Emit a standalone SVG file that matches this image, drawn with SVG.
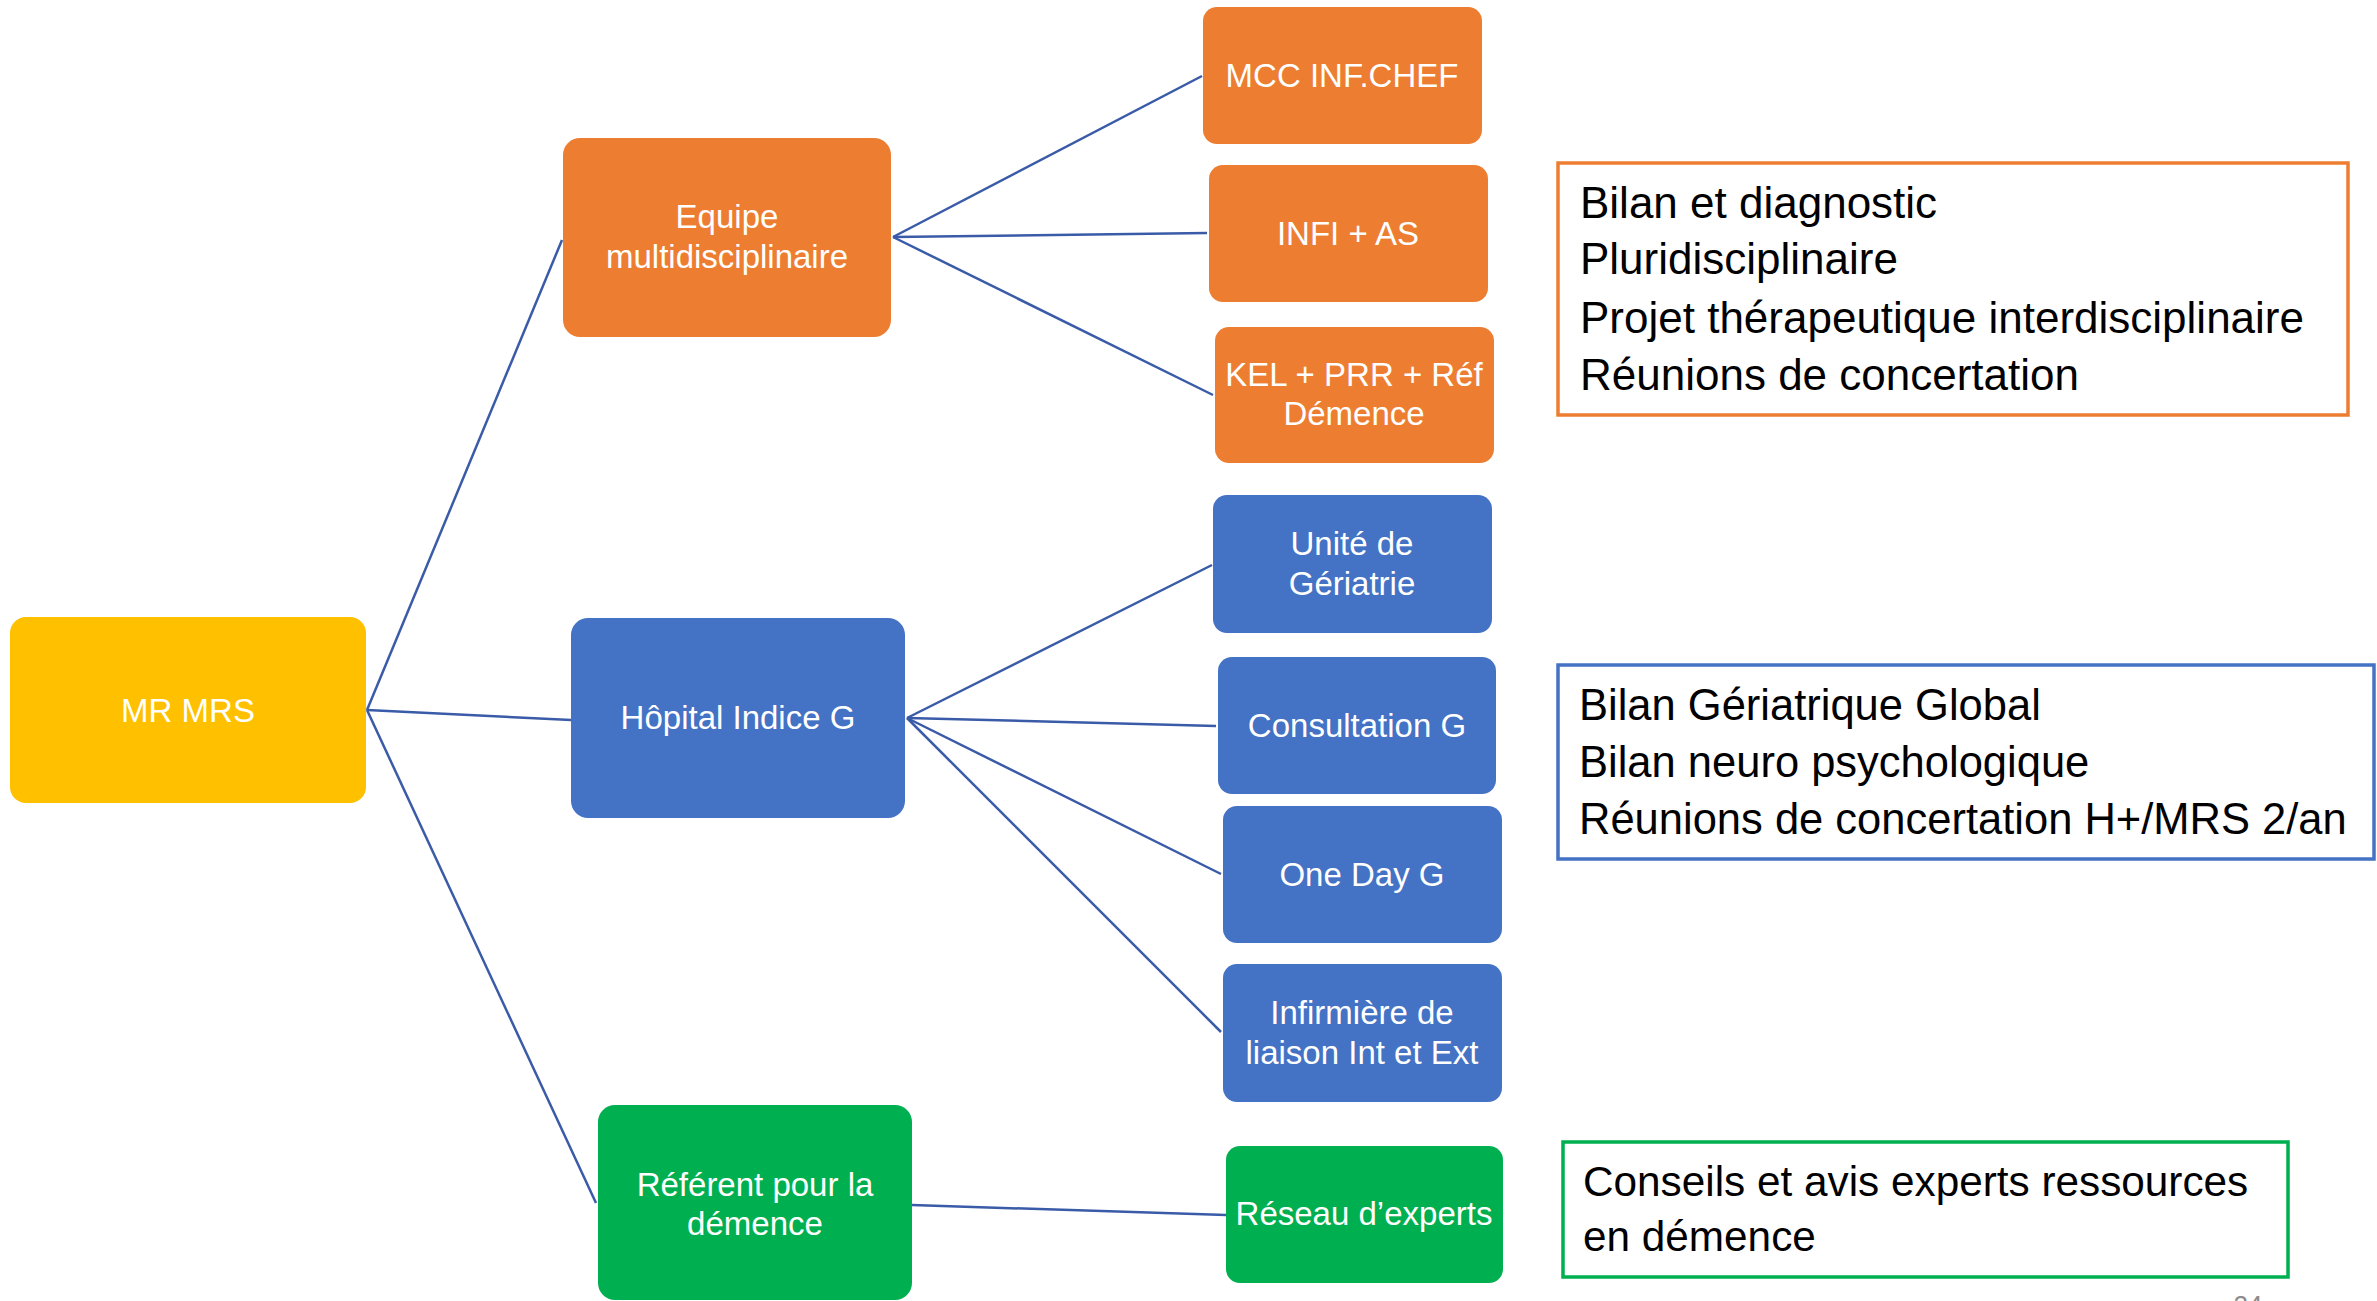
<svg xmlns="http://www.w3.org/2000/svg" width="2377" height="1301" viewBox="0 0 2377 1301">
<style>
.node text{font-family:"Liberation Sans",Arial,sans-serif;font-size:33px;fill:#ffffff;text-anchor:middle}
.yellow{fill:#FFC000}
.orange{fill:#ED7D31}
.blue{fill:#4472C4}
.green{fill:#00B050}
.conn line{stroke:#3A5BA8;stroke-width:2.5;fill:none}
.note text{font-family:"Liberation Sans",Arial,sans-serif;font-size:44px;fill:#000000}
#note-blue text{font-size:43.5px}
#note-green text{font-size:42.3px}
.note rect{fill:#ffffff;stroke-width:3.5}
</style>
<rect width="2377" height="1301" fill="#ffffff"/>
<g id="connectors" class="conn">
<line x1="367" y1="710" x2="562" y2="240"/>
<line x1="367" y1="710" x2="571" y2="720"/>
<line x1="367" y1="710" x2="596" y2="1203"/>
<line x1="893" y1="237" x2="1202" y2="76"/>
<line x1="893" y1="237" x2="1207" y2="233"/>
<line x1="893" y1="237" x2="1213" y2="395"/>
<line x1="907" y1="718" x2="1212" y2="565"/>
<line x1="907" y1="718" x2="1216" y2="726"/>
<line x1="907" y1="718" x2="1221" y2="874"/>
<line x1="907" y1="718" x2="1221" y2="1032"/>
<line x1="912" y1="1205" x2="1226" y2="1215"/>
</g>
<g id="mr-mrs" class="node"><rect class="yellow" x="10" y="617" width="356" height="186" rx="16"/><text x="188" y="722">MR MRS</text></g>
<g id="equipe" class="node"><rect class="orange" x="563" y="138" width="328" height="199" rx="17"/><text x="727" y="228">Equipe</text><text x="727" y="268">multidisciplinaire</text></g>
<g id="hopital" class="node"><rect class="blue" x="571" y="618" width="334" height="200" rx="17"/><text x="738" y="729">Hôpital Indice G</text></g>
<g id="referent" class="node"><rect class="green" x="598" y="1105" width="314" height="195" rx="17"/><text x="755" y="1196">Référent pour la</text><text x="755" y="1235">démence</text></g>
<g id="mcc" class="node"><rect class="orange" x="1203" y="7" width="279" height="137" rx="14"/><text x="1342" y="87">MCC INF.CHEF</text></g>
<g id="infi" class="node"><rect class="orange" x="1209" y="165" width="279" height="137" rx="14"/><text x="1348" y="245">INFI + AS</text></g>
<g id="kel" class="node"><rect class="orange" x="1215" y="327" width="279" height="136" rx="14"/><text x="1354" y="386">KEL + PRR + Réf</text><text x="1354" y="425">Démence</text></g>
<g id="unite" class="node"><rect class="blue" x="1213" y="495" width="279" height="138" rx="14"/><text x="1352" y="555">Unité de</text><text x="1352" y="595">Gériatrie</text></g>
<g id="consultation" class="node"><rect class="blue" x="1218" y="657" width="278" height="137" rx="14"/><text x="1357" y="737">Consultation G</text></g>
<g id="oneday" class="node"><rect class="blue" x="1223" y="806" width="279" height="137" rx="14"/><text x="1362" y="886">One Day G</text></g>
<g id="infirmiere" class="node"><rect class="blue" x="1223" y="964" width="279" height="138" rx="14"/><text x="1362" y="1024">Infirmière de</text><text x="1362" y="1064">liaison Int et Ext</text></g>
<g id="reseau" class="node"><rect class="green" x="1226" y="1146" width="277" height="137" rx="14"/><text x="1364" y="1225">Réseau d’experts</text></g>
<g id="note-orange" class="note"><rect x="1558" y="163" width="790" height="252" stroke="#ED7D31"/><text x="1580" y="218">Bilan et diagnostic</text><text x="1580" y="274">Pluridisciplinaire</text><text x="1580" y="333">Projet thérapeutique interdisciplinaire</text><text x="1580" y="390">Réunions de concertation</text></g>
<g id="note-blue" class="note"><rect x="1558" y="665" width="816" height="194" stroke="#4472C4"/><text x="1579" y="720">Bilan Gériatrique Global</text><text x="1579" y="777">Bilan neuro psychologique</text><text x="1579" y="834">Réunions de concertation H+/MRS 2/an</text></g>
<g id="note-green" class="note"><rect x="1563" y="1142" width="725" height="135" stroke="#00B050"/><text x="1583" y="1196">Conseils et avis experts ressources</text><text x="1583" y="1251">en démence</text></g>
<text x="2248" y="1314" font-family="Liberation Sans,Arial,sans-serif" font-size="26" fill="#8C8C8C" text-anchor="middle">24</text>
</svg>
